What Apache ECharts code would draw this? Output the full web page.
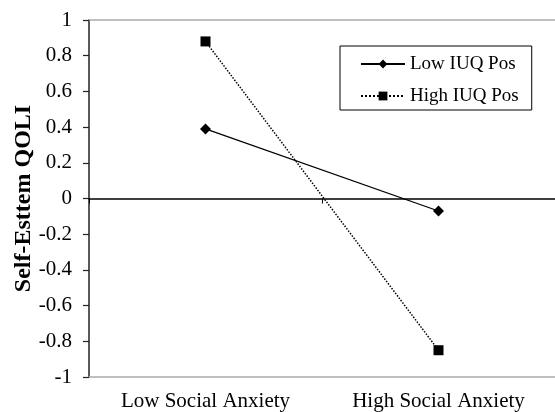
<!DOCTYPE html>
<html><head><meta charset="utf-8">
<script src="https://cdn.jsdelivr.net/npm/echarts@6/dist/echarts.min.js"></script>
<style>html,body{margin:0;padding:0;background:#fff}#c{width:555px;height:412px}</style>
</head><body><div id="c"></div>
<script>
const categories = ['Low Social Anxiety', 'High Social Anxiety'];
const lowIUQPos = [0.39, -0.07];
const highIUQPos = [0.88, -0.85];
const seriesNames = ['Low IUQ Pos', 'High IUQ Pos'];

const serif = '"Liberation Serif", "Times New Roman", serif';
const chart = echarts.init(document.getElementById('c'), null, {renderer: 'canvas'});
chart.setOption({
  backgroundColor: '#fff',
  animation: false,
  textStyle: {fontFamily: serif, color: '#000'},
  grid: {left: 89, right: -3, top: 20, bottom: 34, containLabel: false},
  legend: {
    orient: 'vertical',
    left: 340, top: 46,
    data: seriesNames,
    borderColor: '#000', borderWidth: 1,
    padding: [8, 13, 4, 20],
    itemWidth: 44, itemHeight: 11, itemGap: 12,
    textStyle: {fontFamily: serif, fontSize: 19, color: '#000', lineHeight: 20}
  },
  xAxis: [
    {
      type: 'category', data: categories, position: 'bottom',
      axisLine: {show: true, onZero: true, lineStyle: {color: '#000', width: 1.5}},
      axisTick: {show: true, length: 5, lineStyle: {color: '#000'}},
      axisLabel: {show: false}, splitLine: {show: false}, z: 5
    },
    {
      type: 'category', data: categories, position: 'bottom',
      axisLine: {show: true, onZero: false, lineStyle: {color: '#aaa', width: 1.5}},
      axisTick: {show: false},
      axisLabel: {show: true, fontFamily: serif, fontSize: 21, color: '#000', margin: 14},
      splitLine: {show: false}
    },
    {
      type: 'category', data: categories, position: 'top',
      axisLine: {show: true, onZero: false, lineStyle: {color: '#aaa', width: 1.5}},
      axisTick: {show: false}, axisLabel: {show: false}, splitLine: {show: false}
    }
  ],
  yAxis: {
    type: 'value', min: -1, max: 1, interval: 0.2,
    name: 'Self-Esttem QOLI', nameLocation: 'middle', nameGap: 53, nameMoveOverlap: false,
    nameTextStyle: {fontFamily: serif, fontSize: 24, fontWeight: 'bold', color: '#000'},
    axisLine: {show: true, lineStyle: {color: '#222', width: 1.5}},
    axisTick: {show: true, inside: false, length: 6, lineStyle: {color: '#222', width: 1.2}},
    axisLabel: {fontFamily: serif, fontSize: 21, color: '#000', margin: 17},
    splitLine: {show: false}
  },
  series: [
    {
      name: seriesNames[0], type: 'line', data: lowIUQPos, xAxisIndex: 0,
      symbol: 'diamond', symbolSize: 11,
      lineStyle: {color: '#000', width: 1.3, type: 'solid'},
      itemStyle: {color: '#000'}, z: 6
    },
    {
      name: seriesNames[1], type: 'line', data: highIUQPos, xAxisIndex: 0,
      symbol: 'rect', symbolSize: 10,
      lineStyle: {color: '#000', width: 1.5, type: 'dotted'},
      itemStyle: {color: '#000'}, z: 6
    }
  ]
});
</script></body></html>
